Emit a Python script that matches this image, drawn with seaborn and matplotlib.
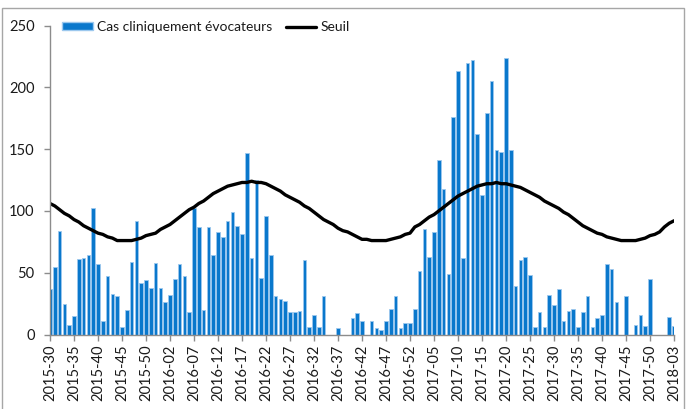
import numpy as np
import pandas as pd
import matplotlib
matplotlib.use("Agg")
import matplotlib.pyplot as plt
import seaborn as sns
from matplotlib.patches import Patch, Rectangle
from matplotlib.lines import Line2D

# ---- data -------------------------------------------------------------
years = [2015, 2016, 2017, 2018]
first_week = [30, 1, 1, 1]
last_week = [53, 52, 52, 3]
weeks = [f"{y}-{w:02d}" for y, a, b in zip(years, first_week, last_week)
         for w in range(a, b + 1)]

cas_2015 = [37, 55, 84, 25, 8, 15, 61, 62, 64, 102, 57, 11, 47, 33, 31, 6,
            20, 59, 92, 42, 44, 38, 58, 38]
cas_2016 = [26, 32, 45, 57, 47, 18, 102, 87, 20, 87, 64, 83, 79, 92, 99, 88,
            81, 147, 62, 125, 46, 96, 64, 31, 29, 27, 18, 18, 19, 60, 6, 16,
            6, 31, 0, 0, 5, 0, 0, 13, 17, 11, 0, 11, 5, 4, 11, 21, 31, 5, 9, 9]
cas_2017 = [21, 51, 85, 63, 83, 141, 118, 49, 176, 213, 62, 220, 222, 162,
            113, 179, 205, 149, 148, 224, 149, 39, 60, 63, 48, 6, 18, 6, 32,
            24, 37, 11, 19, 21, 6, 18, 31, 6, 13, 16, 57, 53, 26, 0, 31, 0, 8,
            16, 7, 45, 0, 0]
cas_2018 = [0, 14, 7]
cas = cas_2015 + cas_2016 + cas_2017 + cas_2018

seuil = [106, 104, 101, 98, 96, 93, 91, 88, 86, 84, 82, 81, 79, 78, 76, 76,
         76, 76, 77, 78, 80, 81, 82, 85, 87, 89, 92, 95, 98, 101, 103, 106,
         108, 111, 114, 116, 118, 120, 121, 122, 123, 123, 124, 123, 123, 122,
         120, 118, 116, 113, 111, 109, 107, 104, 102, 99, 96, 93, 91, 89, 86,
         84, 83, 81, 79, 77, 77, 76, 76, 76, 76, 77, 78, 79, 81, 82, 87, 89,
         92, 95, 97, 100, 103, 106, 109, 112, 114, 116, 118, 120, 121, 122,
         122, 123, 122, 122, 121, 120, 119, 117, 115, 113, 111, 108, 106, 104,
         102, 99, 97, 94, 91, 88, 86, 84, 82, 81, 79, 78, 77, 76, 76, 76, 76,
         77, 78, 80, 81, 83, 87, 90, 92]

series_labels = ["Cas cliniquement évocateurs", "Seuil"]
y_ticks = [0, 50, 100, 150, 200, 250]

df = pd.DataFrame({"semaine": weeks, "pos": np.arange(len(weeks)),
                   "cas": cas, "seuil": seuil})

# ---- style ------------------------------------------------------------
sns.set_theme(style="white")
plt.rcParams["font.family"] = ["Lato", "DejaVu Sans"]

bar_color = "#0a78cc"
edge_color = "#9cc8ee"
axis_color = "#8c8c8c"
text_color = "#1a1a1a"

fig = plt.figure(figsize=(6.86, 4.09), dpi=100)
ax = fig.add_axes([50 / 686, 1 - 334.5 / 409, 624 / 686, 309 / 409])

sns.barplot(data=df, x="pos", y="cas", native_scale=True, width=0.72,
            color=bar_color, saturation=1, edgecolor=edge_color,
            linewidth=0.6, ax=ax)
sns.lineplot(data=df, x="pos", y="seuil", color="black", linewidth=2.4,
             ax=ax, legend=False)

ax.set_xlim(0, len(weeks) - 1)
ax.set_ylim(0, 250)
ax.set_yticks(y_ticks)
ax.set_xticks(df["pos"][::5])
ax.set_xticklabels(df["semaine"][::5], rotation=90)
ax.set_xlabel("")
ax.set_ylabel("")

for s in ["top", "right"]:
    ax.spines[s].set_visible(False)
for s in ["left", "bottom"]:
    ax.spines[s].set_color(axis_color)
    ax.spines[s].set_linewidth(1.0)

ax.tick_params(axis="y", direction="out", length=4, width=1,
               color=axis_color, labelcolor=text_color, labelsize=10.5,
               pad=7, left=True)
ax.tick_params(axis="x", direction="out", length=4, width=1,
               color=axis_color, labelcolor=text_color, labelsize=10.5,
               pad=3, bottom=True)

handles = [Patch(facecolor=bar_color, edgecolor=edge_color, linewidth=1.0),
           Line2D([], [], color="black", linewidth=2.4)]
fig.legend(handles, series_labels, ncol=2, frameon=False, fontsize=10,
           loc="center left", bbox_to_anchor=(62 / 686, 1 - 27 / 409),
           handlelength=2.2, handleheight=0.5, handletextpad=0.3,
           columnspacing=1.0, labelcolor=text_color, borderaxespad=0,
           borderpad=0)

# chart-area border
fig.patches.append(Rectangle((2 / 686, -0.05), 682 / 686, 1 - 8 / 409 + 0.05,
                             transform=fig.transFigure, fill=False,
                             edgecolor="#a6a6a6", linewidth=1.0))

fig.savefig("out.png", dpi=100)
